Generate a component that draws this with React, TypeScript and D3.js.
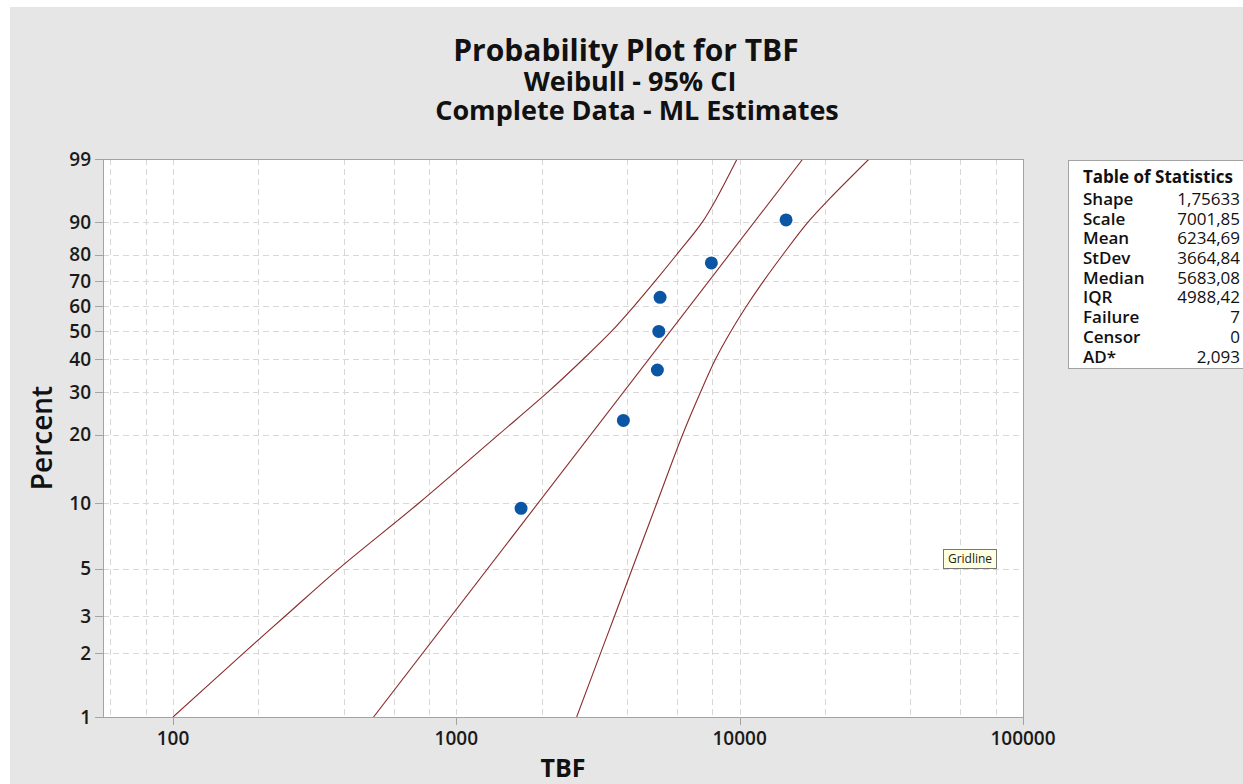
import React from "react";
import * as d3 from "d3";

// Axis ticks and grid positions
const percentTicks = [1, 2, 3, 5, 10, 20, 30, 40, 50, 60, 70, 80, 90, 99];
const tbfTicks = [100, 1000, 10000, 100000];
const tbfGrid = [60, 80, 100, 200, 400, 600, 800, 1000, 2000, 4000, 6000, 8000, 10000, 20000, 40000, 60000, 80000];
const tbfDomain = [56.6, 100000];
const percentDomain = [1, 99];

// Observed failures (TBF) and their plotting positions (%)
const failureTimes = [1692, 3886, 5123, 5182, 5236, 7945, 14580];
const failurePercents = [9.46, 22.97, 36.49, 50, 63.51, 77.03, 90.54];

// ML Weibull fit
const shapeParam = 1.75633;
const scaleParam = 7001.85;

// 95% confidence bounds
const bandPercents = [1, 2, 3, 5, 10, 20, 30, 40, 50, 60, 70, 80, 90, 95, 99];
const lowerBand = [100, 177, 249, 385, 738, 1409, 2107, 2801, 3525, 4240, 5028, 5988, 7379, 8293, 9790];
const upperBand = [2658, 3226, 3617, 4178, 5101, 6287, 7278, 8213, 9303, 10576, 12134, 14196, 17422, 20852, 28628];

// Table of Statistics
const statLabels = ["Shape", "Scale", "Mean", "StDev", "Median", "IQR", "Failure", "Censor", "AD*"];
const statValues = ["1,75633", "7001,85", "6234,69", "3664,84", "5683,08", "4988,42", "7", "0", "2,093"];

const W = 1243;
const H = 784;
const plot = { left: 103, right: 1023, top: 159, bottom: 717 };
const FONT = "'Open Sans', 'Noto Sans', sans-serif";

const weib = (p: number) => Math.log(-Math.log(1 - p / 100));

export default function App() {
  const x = d3.scaleLog().domain(tbfDomain).range([plot.left, plot.right]);
  const yw = d3
    .scaleLinear()
    .domain([weib(percentDomain[0]), weib(percentDomain[1])])
    .range([plot.bottom, plot.top]);
  const y = (p: number) => yw(weib(p));

  // fitted line endpoints from shape/scale
  const fitPts = percentDomain.map((p) => [x(scaleParam * Math.exp(weib(p) / shapeParam)), y(p)] as [number, number]);
  const straight = d3.line();
  const curve = d3.line().curve(d3.curveCatmullRom.alpha(0.5));
  const lowerPts = bandPercents.map((p, i) => [x(lowerBand[i]), y(p)] as [number, number]);
  const upperPts = bandPercents.map((p, i) => [x(upperBand[i]), y(p)] as [number, number]);

  const lineColor = "#8a2b2b";
  const gridColor = "#d8d8d8";
  const frameColor = "#a3a3a3";
  const cx = (plot.left + plot.right) / 2;
  const cy = (plot.top + plot.bottom) / 2;
  const rowGap = 19.7;

  return (
    <div style={{ position: "absolute", left: 0, top: 0 }}>
      <svg width={W} height={H} style={{ display: "block" }} fontFamily={FONT}>
        <rect x={0} y={0} width={W} height={H} fill="#ffffff" />
        <rect x={10} y={7} width={W - 10} height={H - 7} fill="#e6e6e6" />

        {/* titles */}
        <text x={626} y={61} textAnchor="middle" fontSize={30} fontWeight={700} fill="#111">
          Probability Plot for TBF
        </text>
        <text x={630} y={91} textAnchor="middle" fontSize={27} fontWeight={700} fill="#111">
          Weibull - 95% CI
        </text>
        <text x={637} y={120} textAnchor="middle" fontSize={27} fontWeight={700} fill="#111">
          Complete Data - ML Estimates
        </text>

        {/* plot area */}
        <rect x={plot.left} y={plot.top} width={plot.right - plot.left} height={plot.bottom - plot.top} fill="#fff" />
        <defs>
          <clipPath id="plotClip">
            <rect x={plot.left} y={plot.top} width={plot.right - plot.left} height={plot.bottom - plot.top} />
          </clipPath>
        </defs>
        <g stroke={gridColor} strokeWidth={1} strokeDasharray="6,4">
          {tbfGrid.map((t) => (
            <line key={"gx" + t} x1={Math.round(x(t)) + 0.5} x2={Math.round(x(t)) + 0.5} y1={plot.top} y2={plot.bottom} />
          ))}
          {percentTicks.map((p) => (
            <line key={"gy" + p} x1={plot.left} x2={plot.right} y1={Math.round(y(p)) + 0.5} y2={Math.round(y(p)) + 0.5} />
          ))}
        </g>

        <g clipPath="url(#plotClip)" fill="none" stroke={lineColor} strokeWidth={1.1}>
          <path d={curve(lowerPts) || ""} />
          <path d={straight(fitPts) || ""} />
          <path d={curve(upperPts) || ""} />
        </g>

        <g fill="#0b56a4">
          {failureTimes.map((t, i) => (
            <circle key={"pt" + i} cx={x(t)} cy={y(failurePercents[i])} r={6.5} />
          ))}
        </g>

        <rect
          x={plot.left + 0.5}
          y={plot.top + 0.5}
          width={plot.right - plot.left}
          height={plot.bottom - plot.top}
          fill="none"
          stroke={frameColor}
        />

        {/* y axis */}
        <g>
          {percentTicks.map((p) => (
            <g key={"ty" + p}>
              <line x1={95} x2={plot.left} y1={Math.round(y(p)) + 0.5} y2={Math.round(y(p)) + 0.5} stroke={frameColor} />
              <text x={91} y={y(p)} dy="0.35em" textAnchor="end" fontSize={19} fontWeight={600} fill="#1a1a1a">
                {p}
              </text>
            </g>
          ))}
        </g>
        <text
          transform={`translate(42,${cy}) rotate(-90)`}
          textAnchor="middle"
          dy="0.35em"
          fontSize={28}
          fontWeight={600}
          fill="#111"
        >
          Percent
        </text>

        {/* x axis */}
        <g>
          {tbfTicks.map((t) => (
            <g key={"tx" + t}>
              <line x1={Math.round(x(t)) + 0.5} x2={Math.round(x(t)) + 0.5} y1={plot.bottom} y2={plot.bottom + 8} stroke={frameColor} />
              <text x={x(t)} y={plot.bottom + 21} dy="0.35em" textAnchor="middle" fontSize={19} fontWeight={600} fill="#1a1a1a">
                {d3.format("d")(t)}
              </text>
            </g>
          ))}
        </g>
        <text x={cx} y={768} dy="0.35em" textAnchor="middle" fontSize={25} fontWeight={700} fill="#111">
          TBF
        </text>

        {/* table of statistics */}
        <rect x={1068.5} y={160.5} width={190} height={208} fill="#fff" stroke={frameColor} />
        <text x={1083} y={177} dy="0.35em" fontSize={17} fontWeight={700} fill="#111">
          Table of Statistics
        </text>
        {statLabels.map((lab, i) => (
          <g key={lab}>
            <text x={1083} y={199 + i * rowGap} dy="0.35em" fontSize={17} fontWeight={600} fill="#111">
              {lab}
            </text>
            <text x={1240} y={199 + i * rowGap} dy="0.35em" textAnchor="end" fontSize={17} fontWeight={500} fill="#111">
              {statValues[i]}
            </text>
          </g>
        ))}

        {/* gridline tooltip */}
        <rect x={943.5} y={549.5} width={53} height={19} fill="#ffffe1" stroke="#767676" />
        <text x={970} y={559} dy="0.35em" textAnchor="middle" fontSize={12} fill="#222">
          Gridline
        </text>
      </svg>
    </div>
  );
}
